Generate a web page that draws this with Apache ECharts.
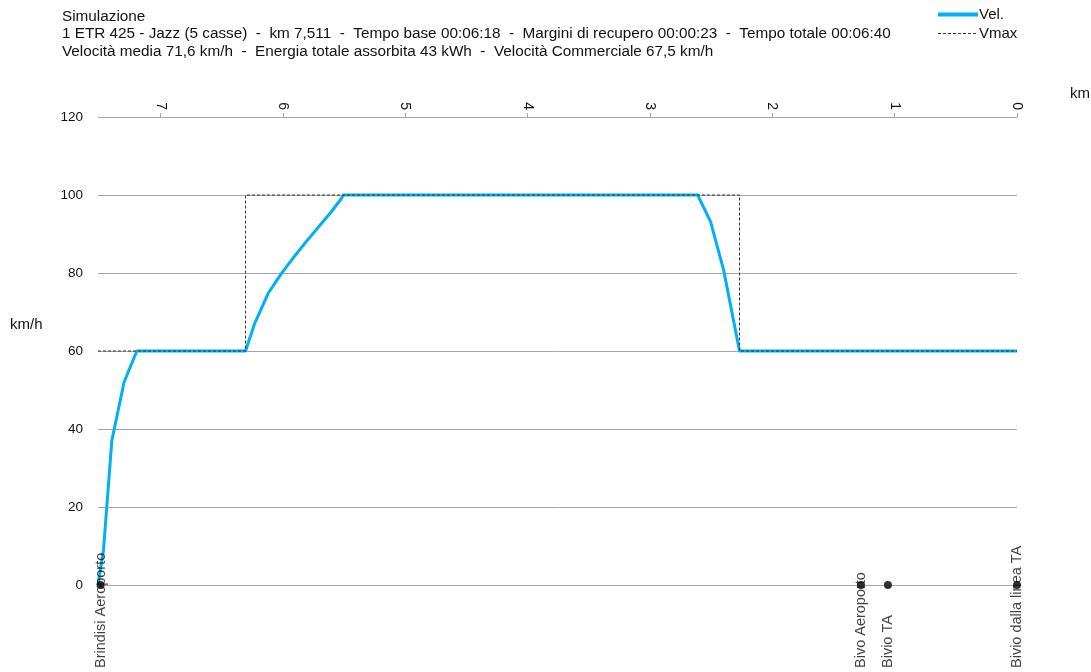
<!DOCTYPE html>
<html>
<head>
<meta charset="utf-8">
<script src="https://cdn.jsdelivr.net/npm/echarts@6/dist/echarts.min.js"></script>
<style>
  html, body { margin: 0; padding: 0; background: #fff; }
  #chart { width: 1091px; height: 672px; }
</style>
</head>
<body>
<div id="chart"></div>
<script>
// Velocity profile along the line (km counted from the end of the route)
const velKm    = [7.511, 7.466, 7.398, 7.298, 7.194, 6.305, 6.230, 6.120, 6.011, 5.900, 5.821, 5.685, 5.604, 5.522, 5.506, 2.610, 2.504, 2.398, 2.268, 0];
const velSpeed = [0,     9,     37,    52,    60,    60,    67.1,  74.8,  79.9,  84.5,  87.6,  92.7,  95.7,  99.1,  100,   100,   93.1,  80.8,  60,    60];

// Maximum allowed speed, stepwise
const vmaxKm    = [7.511, 6.305, 6.305, 2.268, 2.268, 0];
const vmaxSpeed = [60,    60,    100,   100,   60,    60];

// Stations / junctions along the route
const stationNames = ['Brindisi Aeroporto', 'Bivo Aeroporto', 'Bivio TA', 'Bivio dalla linea TA'];
const stationKm    = [7.49, 1.275, 1.055, 0];

const routeLength = 7.511;

const headerLines = [
  'Simulazione',
  '1 ETR 425 - Jazz (5 casse)  -  km 7,511  -  Tempo base 00:06:18  -  Margini di recupero 00:00:23  -  Tempo totale 00:06:40',
  'Velocità media 71,6 km/h  -  Energia totale assorbita 43 kWh  -  Velocità Commerciale 67,5 km/h'
];

const FONT = '"Liberation Sans", Arial, sans-serif';
const TXT = '#111';
const GRID = '#a6a6a6';
const VEL_COLOR = '#00B0F0';

const chart = echarts.init(document.getElementById('chart'), null, { renderer: 'canvas' });

chart.setOption({
  backgroundColor: '#fff',
  animation: false,
  textStyle: { fontFamily: FONT },
  title: [
    {
      text: headerLines.join('\n'),
      left: 62, top: 8, padding: 0,
      textStyle: { fontSize: 15.3, fontWeight: 'normal', color: TXT, lineHeight: 17.5, fontFamily: FONT }
    },
    {
      text: 'km/h',
      left: 10, top: 317, padding: 0,
      textStyle: { fontSize: 15, fontWeight: 'normal', color: TXT, fontFamily: FONT }
    },
    {
      text: 'km',
      left: 1070, top: 86, padding: 0,
      textStyle: { fontSize: 15, fontWeight: 'normal', color: TXT, fontFamily: FONT }
    }
  ],
  legend: {
    orient: 'vertical',
    left: 936, top: 7,
    itemWidth: 40, itemHeight: 14, itemGap: 4,
    padding: 0,
    itemStyle: { opacity: 0 },
    textStyle: { fontSize: 15, color: TXT, fontFamily: FONT, padding: [0, 0, 0, -4] },
    data: [
      { name: 'Vel.', lineStyle: { width: 4 } },
      { name: 'Vmax', lineStyle: { width: 1 } }
    ]
  },
  grid: { left: 98, right: 74, top: 117, bottom: 87, containLabel: false },
  xAxis: {
    type: 'value',
    position: 'top',
    inverse: true,
    min: 0,
    max: routeLength,
    interval: 1,
    axisLine: { show: true, onZero: false, lineStyle: { color: GRID, width: 1 } },
    axisTick: { show: true, inside: false, length: 4, lineStyle: { color: GRID } },
    splitLine: { show: false },
    axisLabel: {
      rotate: 90,
      margin: 7,
      fontSize: 14,
      color: TXT,
      showMaxLabel: false,
      formatter: v => String(Math.round(v))
    }
  },
  yAxis: {
    type: 'value',
    min: 0,
    max: 120,
    interval: 20,
    axisLine: { show: false },
    axisTick: { show: false },
    splitLine: { show: true, lineStyle: { color: GRID, width: 1 } },
    axisLabel: { fontSize: 13.5, color: TXT, margin: 15 }
  },
  series: [
    {
      name: 'Vel.',
      type: 'line',
      data: velKm.map((k, i) => [k, velSpeed[i]]),
      symbol: 'none',
      lineStyle: { color: VEL_COLOR, width: 3 },
      itemStyle: { color: VEL_COLOR },
      z: 2
    },
    {
      name: 'Vmax',
      type: 'line',
      data: vmaxKm.map((k, i) => [k, vmaxSpeed[i]]),
      symbol: 'none',
      lineStyle: { color: '#333', width: 1, type: [3, 2] },
      itemStyle: { color: '#333' },
      z: 3
    },
    {
      name: 'Stazioni',
      type: 'scatter',
      data: stationKm.map((k, i) => ({ value: [k, 0], name: stationNames[i] })),
      symbol: 'circle',
      symbolSize: 8,
      clip: false,
      itemStyle: { color: '#000' },
      z: 4,
      label: {
        show: true,
        formatter: p => p.name,
        position: 'inside',
        rotate: 90,
        align: 'left',
        verticalAlign: 'middle',
        offset: [-83, 0],
        fontSize: 14.5,
        color: TXT,
        fontFamily: FONT
      }
    }
  ]
});
</script>
</body>
</html>
